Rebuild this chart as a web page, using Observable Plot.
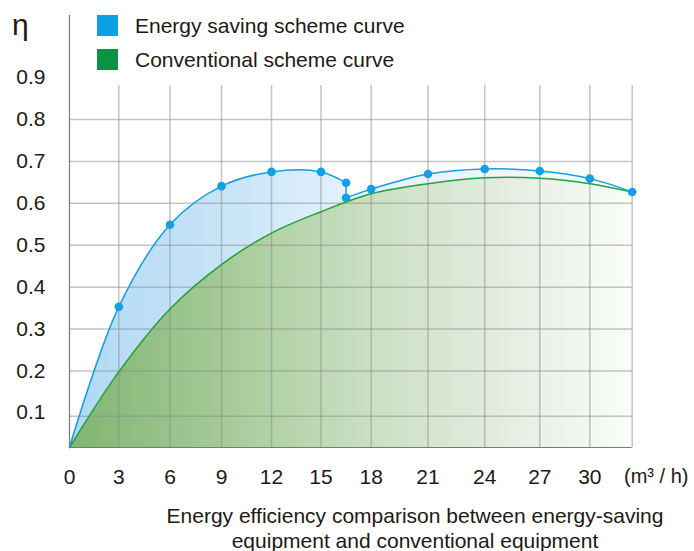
<!DOCTYPE html>
<html>
<head>
<meta charset="utf-8">
<script src="https://cdn.jsdelivr.net/npm/d3@7"></script>
<script src="https://cdn.jsdelivr.net/npm/@observablehq/plot@0.6"></script>
<style>
  html, body { margin: 0; padding: 0; background: #fff; overflow: hidden; }
  body { font-family: "Liberation Sans", Arial, sans-serif; color: #231815; }
  #wrap { position: relative; width: 694px; height: 551px; }
  #chart { position: absolute; left: 0; top: 0; }
  #eta { position: absolute; left: 12px; top: 10px; font-size: 30px; line-height: 30px; }
  .leg { position: absolute; left: 97px; height: 21px; font-size: 21px; line-height: 21px; white-space: nowrap; }
  .leg span.sw { display: inline-block; width: 21px; height: 21px; vertical-align: top; margin-right: 17px; }
  #unit { position: absolute; left: 624px; top: 466px; font-size: 20px; line-height: 20px; white-space: nowrap; }
  #caption { position: absolute; left: 0; top: 504px; width: 694px; box-sizing: border-box; padding-left: 136px;
             text-align: center; font-size: 21px; line-height: 24.5px; }
</style>
</head>
<body>
<div id="wrap">
  <div id="chart"></div>
  <div id="eta">η</div>
  <div class="leg" id="leg1"></div>
  <div class="leg" id="leg2"></div>
  <div id="unit">(m³ / h)</div>
  <div id="caption">Energy efficiency comparison between energy-saving<br>equipment and conventional equipment</div>
</div>
<script>
// ---- data ----
const xTicks = [0, 3, 6, 9, 12, 15, 18, 21, 24, 27, 30];
const xEnd = 32.5;
const yTicks = [0.1, 0.2, 0.3, 0.4, 0.5, 0.6, 0.7, 0.8, 0.9];
const yGrid = [0.1, 0.2, 0.3, 0.4, 0.5, 0.6, 0.7, 0.8];

const seriesNames = ["Energy saving scheme curve", "Conventional scheme curve"];

// energy saving scheme: two pieces joined by a vertical drop
const saveX1 = [0, 3, 6, 9, 12, 15, 16.5];
const saveY1 = [0, 0.353, 0.549, 0.641, 0.675, 0.675, 0.649];
const saveX2 = [16.5, 18, 21, 24, 27, 30, 32.5];
const saveY2 = [0.613, 0.634, 0.670, 0.682, 0.677, 0.659, 0.627];

// conventional scheme
const convX = [0, 3, 6, 9, 12, 15, 18, 21, 24, 27, 30, 32.5];
const convY = [0, 0.198, 0.348, 0.454, 0.529, 0.580, 0.623, 0.647, 0.661, 0.660, 0.647, 0.627];

// ---- build tables ----
const saveA = saveX1.map((x, i) => ({x, y: saveY1[i]}));
const saveB = saveX2.map((x, i) => ({x, y: saveY2[i]}));
const jump = [saveA[saveA.length - 1], saveB[0]];
const convData = convX.map((x, i) => ({x, y: convY[i]}));
const savePoints = [...saveA, ...saveB].filter(d => d.x > 0);

const blue = "#14a0e4";
const blueLine = "#1a9de0";
const greenLine = "#25a33e";
const swBlue = "#0ea0e6";
const swGreen = "#0a9342";

const W = 694, H = 500;
const frameLeft = 69, frameRight = 631.7, frameTop = 15, frameBottom = 447;

const chart = Plot.plot({
  width: W,
  height: H,
  marginLeft: frameLeft,
  marginRight: W - frameRight,
  marginTop: frameTop,
  marginBottom: H - frameBottom,
  x: {type: "linear", axis: null,
      domain: [...xTicks, xEnd],
      range: [69, 118.3, 169.5, 221, 271, 320.5, 370.7, 427.5, 484.2, 539.3, 589.3, frameRight]},
  y: {type: "linear", axis: null,
      domain: [0, 0.1, 0.2, 0.9],
      range: [frameBottom, 415.7, 370.5, 77.1]},
  style: {fontFamily: '"Liberation Sans", Arial, sans-serif', color: "#231815", background: "transparent", overflow: "visible"},
  marks: [
    Plot.areaY(saveA, {x: "x", y1: 0, y2: "y", curve: "catmull-rom", fill: "url(#gBlue)"}),
    Plot.areaY(saveB, {x: "x", y1: 0, y2: "y", curve: "catmull-rom", fill: "url(#gBlue)"}),
    Plot.areaY(convData, {x: "x", y1: 0, y2: "y", curve: "catmull-rom", fill: "url(#gGreen)"}),
    Plot.ruleY(yGrid, {stroke: "#8c8c8c", strokeOpacity: 0.5, strokeWidth: 1.5}),
    Plot.ruleX([...xTicks.slice(1), xEnd], {stroke: "#8c8c8c", strokeOpacity: 0.5, strokeWidth: 1.5, insetTop: 70}),
    Plot.ruleX([0], {stroke: "#7a7a7a", strokeWidth: 1.2}),
    Plot.ruleY([0], {stroke: "#7a7a7a", strokeWidth: 1.2}),
    Plot.line(convData, {x: "x", y: "y", curve: "catmull-rom", stroke: greenLine, strokeWidth: 1.5}),
    Plot.line(saveA, {x: "x", y: "y", curve: "catmull-rom", stroke: blueLine, strokeWidth: 1.5}),
    Plot.line(saveB, {x: "x", y: "y", curve: "catmull-rom", stroke: blueLine, strokeWidth: 1.5}),
    Plot.line(jump, {x: "x", y: "y", stroke: blueLine, strokeWidth: 1.5}),
    Plot.dot(savePoints, {x: "x", y: "y", r: 4.3, fill: blue, stroke: null}),
    Plot.text(xTicks, {x: d => d, frameAnchor: "bottom", lineAnchor: "middle", dy: 30, fontSize: 21, text: d => String(d), fill: "#231815"}),
    Plot.text(yTicks.filter(d => d !== 0.1), {y: d => d, frameAnchor: "left", lineAnchor: "middle", textAnchor: "end", dx: -24, fontSize: 21, text: d => String(d), fill: "#231815"}),
    Plot.text(yTicks.filter(d => d === 0.1), {y: d => d, frameAnchor: "left", lineAnchor: "middle", textAnchor: "end", dx: -24, dy: -4, fontSize: 21, text: d => String(d), fill: "#231815"})
  ]
});

chart.insertAdjacentHTML("afterbegin", `
<defs>
  <linearGradient id="gBlue" gradientUnits="userSpaceOnUse" x1="${frameLeft}" y1="0" x2="${frameRight}" y2="0">
    <stop offset="0" stop-color="#b0d9f4"/>
    <stop offset="0.3" stop-color="#cae5f8"/>
    <stop offset="0.5" stop-color="#e4f2fc"/>
    <stop offset="1" stop-color="#f6fbfe"/>
  </linearGradient>
  <linearGradient id="gGreen" gradientUnits="userSpaceOnUse" x1="${frameLeft}" y1="0" x2="${frameRight}" y2="0">
    <stop offset="0" stop-color="#7fb571"/>
    <stop offset="0.27" stop-color="#a4ca97"/>
    <stop offset="0.53" stop-color="#c9dfc2"/>
    <stop offset="0.74" stop-color="#e0ebdc"/>
    <stop offset="0.92" stop-color="#f2f7f0"/>
    <stop offset="1" stop-color="#fafcf9"/>
  </linearGradient>
</defs>`);

document.getElementById("chart").appendChild(chart);

const leg1 = document.getElementById("leg1");
leg1.style.top = "15px";
leg1.innerHTML = `<span class="sw" style="background:${swBlue}"></span>${seriesNames[0]}`;
const leg2 = document.getElementById("leg2");
leg2.style.top = "49px";
leg2.innerHTML = `<span class="sw" style="background:${swGreen}"></span>${seriesNames[1]}`;
</script>
</body>
</html>
